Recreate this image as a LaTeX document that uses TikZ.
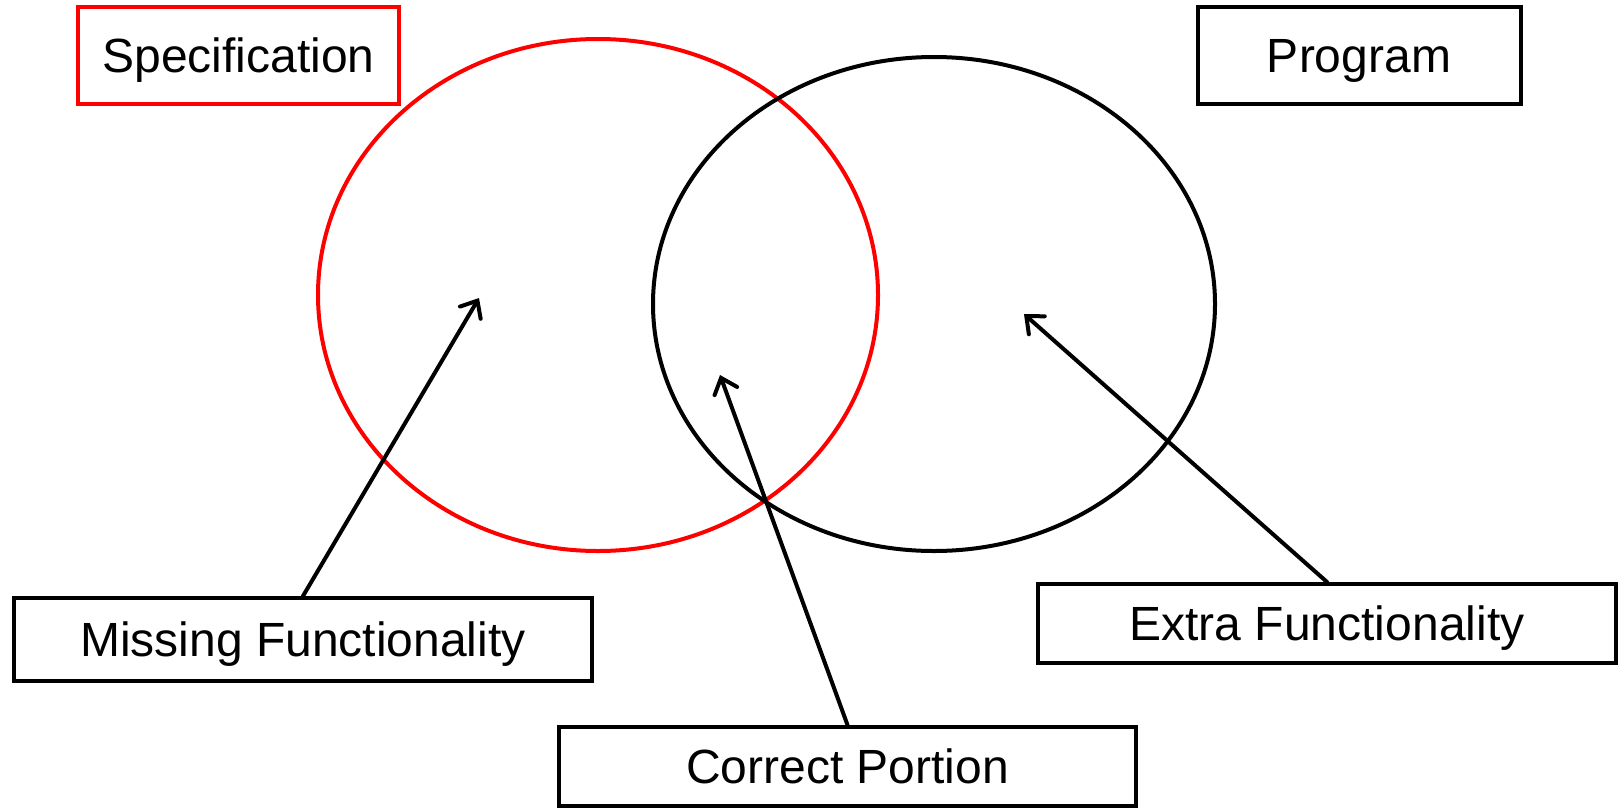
\documentclass[tikz,border=0pt]{standalone}
\usepackage{fontspec}
\setmainfont{Liberation Sans}
\usetikzlibrary{arrows.meta}

\begin{document}
\begin{tikzpicture}[x=0.5pt,y=-0.5pt,line width=2pt,
  label box/.style={draw,inner sep=0pt,text depth=0pt,font=\fontsize{24}{28}\selectfont},
  pointer/.style={-{Straight Barb[length=7pt,width=12pt,line cap=round]},line cap=round}]
\useasboundingbox (0,0) rectangle (1622,809);
% the two sets
\draw[red] (598,295) ellipse [x radius=280,y radius=256];
\draw (934,304) ellipse [x radius=281,y radius=247];

\node[label box,red,text=black,minimum width=160.5pt,minimum height=48.5pt] (spec) at (238.5,55.5) {Specification};
\node[label box,minimum width=161.5pt,minimum height=48.5pt] (prog) at (1359,55.5) {Program};
\node[label box,minimum width=289pt,minimum height=41.5pt] (missing) at (303,639.5) {Missing Functionality};
\node[label box,minimum width=288.5pt,minimum height=39.5pt] (correct) at (847.5,766.5) {Correct Portion};
\node[label box,minimum width=289pt,minimum height=39.5pt] (extra) at (1327,623.5) {Extra Functionality};

\coordinate (mtip) at (479,298);
\coordinate (ctip) at (720,375);
\coordinate (etip) at (1024,314);

\draw[pointer] (missing.north) -- (mtip);
\draw[pointer] (correct.north) -- (ctip);
\draw[pointer] (extra.north) -- (etip);
\end{tikzpicture}
\end{document}
